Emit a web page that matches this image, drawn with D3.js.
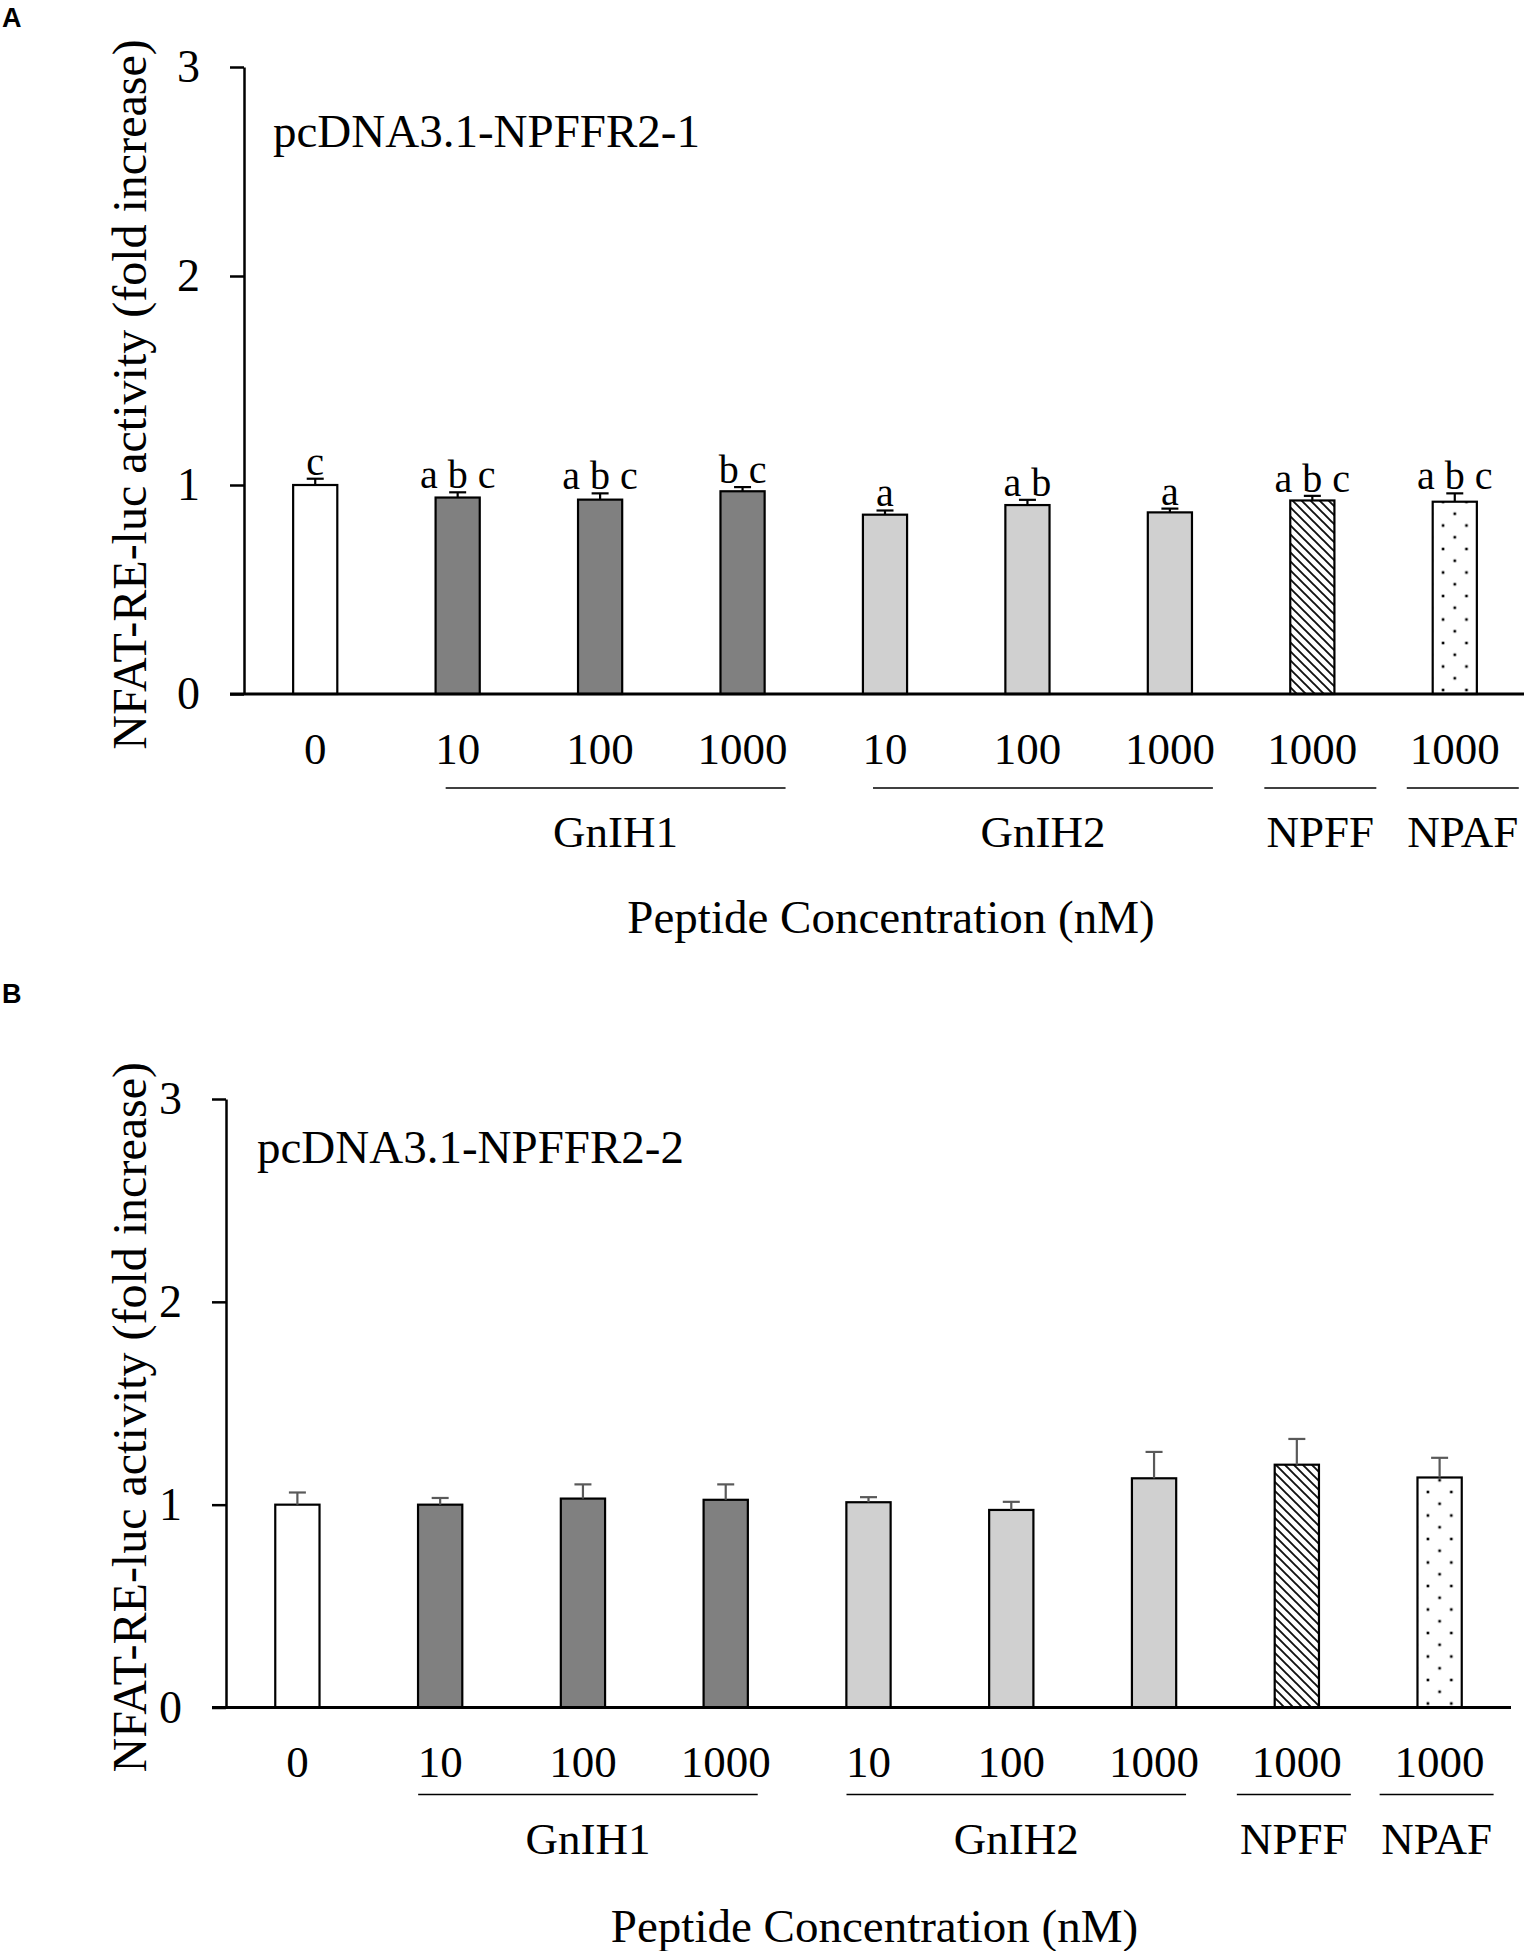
<!DOCTYPE html>
<html>
<head>
<meta charset="utf-8">
<script src="https://cdn.jsdelivr.net/npm/d3@7"></script>
<style>
  body { margin: 0; background: #fff; }
  svg { display: block; }
  text { font-family: "Liberation Serif", "Times New Roman", serif; fill: #000; }
</style>
</head>
<body>
<svg id="chart" width="1524" height="1951"></svg>
<script>
// doses shown under each bar, and which peptide each bar belongs to
const doses = ["0", "10", "100", "1000", "10", "100", "1000", "1000", "1000"]
const groups = ["Control", "GnIH1", "GnIH1", "GnIH1", "GnIH2", "GnIH2", "GnIH2", "NPFF", "NPAF"]
const yTicks = [0, 1, 2, 3]

// panel A, pcDNA3.1-NPFFR2-1
const meanA = [1.00, 0.94, 0.93, 0.97, 0.858, 0.904, 0.869, 0.926, 0.92]
const errA = [0.03, 0.025, 0.03, 0.02, 0.02, 0.025, 0.018, 0.022, 0.04]
const lettersA = ["c", "a b c", "a b c", "b c", "a", "a b", "a", "a b c", "a b c"]

// panel B, pcDNA3.1-NPFFR2-2
const meanB = [1.00, 1.00, 1.03, 1.024, 1.012, 0.974, 1.13, 1.197, 1.134]
const errB = [0.06, 0.033, 0.07, 0.076, 0.025, 0.04, 0.13, 0.127, 0.097]

const svg = d3.select("#chart")
const defs = svg.append("defs")

const hatch = defs.append("pattern")
  .attr("id", "hatch")
  .attr("patternUnits", "userSpaceOnUse")
  .attr("width", 9)
  .attr("height", 9)
hatch.append("rect").attr("width", 9).attr("height", 9).attr("fill", "#fff")
hatch.append("path")
  .attr("d", "M-2,-2 L11,11 M-2,7 L2,11 M7,-2 L11,2")
  .attr("stroke", "#111")
  .attr("stroke-width", 1.9)

function fillFor(g, panelId) {
  if (g == "GnIH1") return "#808080"
  if (g == "GnIH2") return "#d0d0d0"
  if (g == "NPFF") return "url(#hatch)"
  if (g == "NPAF") return "url(#dots" + panelId + ")"
  return "#fff"
}

function drawPanel(p) {
  const x = d3.scaleBand()
    .domain(d3.range(doses.length))
    .range([p.left, p.right])
    .paddingInner(0.69)
    .paddingOuter(0.345)

  const y = d3.scaleLinear()
    .domain([0, 3])
    .range([p.bottom, p.top])

  const cx = i => x(i) + x.bandwidth() / 2
  const g = svg.append("g")

  // dotted fill for the NPAF bar, lined up with that bar
  const npaf = groups.indexOf("NPAF")
  const dots = defs.append("pattern")
    .attr("id", "dots" + p.id)
    .attr("patternUnits", "userSpaceOnUse")
    .attr("x", cx(npaf) - 11.7)
    .attr("y", p.bottom - 4)
    .attr("width", 23.4)
    .attr("height", 23.5)
  dots.append("rect").attr("width", 23.4).attr("height", 23.5).attr("fill", "#fff")
  dots.selectAll("rect.d")
    .data([[0, 0], [23.4, 0], [11.7, 11.75], [0, 23.5], [23.4, 23.5]])
    .enter().append("rect")
    .attr("class", "d")
    .attr("x", d => d[0] - 1.3)
    .attr("y", d => d[1] - 1.3)
    .attr("width", 2.6)
    .attr("height", 2.6)
    .attr("fill", "#000")

  // panel letter
  svg.append("text")
    .attr("x", 2)
    .attr("y", p.letterY)
    .style("font-family", "'Liberation Sans', Arial, sans-serif")
    .style("font-weight", "bold")
    .style("font-size", "27px")
    .text(p.id)

  // y axis
  const yAxis = d3.axisLeft(y)
    .tickValues(yTicks)
    .tickFormat(d3.format("d"))
    .tickSize(14)
    .tickSizeOuter(0)
    .tickPadding(30)
  const yG = g.append("g")
    .attr("transform", `translate(${p.left},0)`)
    .call(yAxis)
  yG.select(".domain").attr("stroke", "#000").attr("stroke-width", 2.5)
  yG.selectAll(".tick line").attr("stroke", "#000").attr("stroke-width", 2.5)
  yG.selectAll(".tick text")
    .style("font-family", "'Liberation Serif', 'Times New Roman', serif")
    .style("font-size", "46px")
    .attr("fill", "#000")

  g.append("text")
    .attr("transform", `translate(146,${(p.top + p.bottom) / 2 + 14}) rotate(-90)`)
    .attr("text-anchor", "middle")
    .style("font-size", "48px")
    .text("NFAT-RE-luc activity (fold increase)")

  g.append("text")
    .attr("x", p.left + p.noteDx)
    .attr("y", p.top + p.noteDy)
    .style("font-size", "47px")
    .text(p.note)

  // bars
  g.append("g").selectAll("rect")
    .data(p.mean)
    .enter().append("rect")
    .attr("x", (d, i) => x(i))
    .attr("y", d => y(d))
    .attr("width", x.bandwidth())
    .attr("height", d => y(0) - y(d))
    .attr("fill", (d, i) => fillFor(groups[i], p.id))
    .attr("stroke", "#000")
    .attr("stroke-width", 2.2)

  // error bars, upper half only
  const eb = g.append("g")
    .attr("stroke", p.errColor)
    .attr("stroke-width", 2.2)
  p.mean.forEach((m, i) => {
    eb.append("line")
      .attr("x1", cx(i)).attr("x2", cx(i))
      .attr("y1", y(m)).attr("y2", y(m + p.err[i]))
    eb.append("line")
      .attr("x1", cx(i) - 8.5).attr("x2", cx(i) + 8.5)
      .attr("y1", y(m + p.err[i])).attr("y2", y(m + p.err[i]))
  })

  if (p.letters) {
    g.append("g").selectAll("text")
      .data(p.letters)
      .enter().append("text")
      .attr("x", (d, i) => cx(i))
      .attr("y", (d, i) => y(p.mean[i] + p.err[i]) - 4)
      .attr("text-anchor", "middle")
      .style("font-size", "40px")
      .style("white-space", "pre")
      .text(d => d)
  }

  // x axis: dose labels
  const xAxis = d3.axisBottom(x)
    .tickFormat(i => doses[i])
    .tickSize(0)
    .tickPadding(38)
  const xG = g.append("g")
    .attr("transform", `translate(0,${p.bottom})`)
    .call(xAxis)
  xG.select(".domain").remove()
  xG.selectAll(".tick text")
    .style("font-family", "'Liberation Serif', 'Times New Roman', serif")
    .style("font-size", "45px")
    .attr("fill", "#000")

  g.append("line")
    .attr("x1", p.left - 14).attr("x2", p.right)
    .attr("y1", p.bottom).attr("y2", p.bottom)
    .attr("stroke", "#000")
    .attr("stroke-width", 3)

  // peptide groups with a rule above each name
  const spans = d3.groups(d3.range(groups.length), i => groups[i])
    .filter(s => s[0] != "Control")
  spans.forEach(([name, idx]) => {
    const single = idx.length == 1
    const x1 = cx(idx[0]) - (single ? p.singleL : p.multiL)
    const x2 = cx(idx[idx.length - 1]) + (single ? p.singleR : p.multiR)
    g.append("line")
      .attr("x1", x1).attr("x2", x2)
      .attr("y1", p.bottom + p.ruleDy).attr("y2", p.bottom + p.ruleDy)
      .attr("stroke", "#000")
      .attr("stroke-width", 1.5)
    g.append("text")
      .attr("x", (x1 + x2) / 2)
      .attr("y", p.bottom + p.groupDy)
      .attr("text-anchor", "middle")
      .style("font-size", "45px")
      .text(name)
  })

  g.append("text")
    .attr("x", (p.left + p.right) / 2 + 6)
    .attr("y", p.bottom + p.titleDy)
    .attr("text-anchor", "middle")
    .style("font-size", "47px")
    .text("Peptide Concentration (nM)")
}

drawPanel({
  id: "A", letterY: 27,
  left: 244, right: 1526, top: 67, bottom: 694,
  mean: meanA, err: errA, letters: lettersA, errColor: "#000",
  note: "pcDNA3.1-NPFFR2-1", noteDx: 29, noteDy: 80,
  ruleDy: 94, groupDy: 153, titleDy: 239,
  multiL: 12, multiR: 43, singleL: 48, singleR: 64
})

drawPanel({
  id: "B", letterY: 1003,
  left: 226, right: 1511, top: 1099, bottom: 1707.5,
  mean: meanB, err: errB, letters: null, errColor: "#595959",
  note: "pcDNA3.1-NPFFR2-2", noteDx: 31, noteDy: 64,
  ruleDy: 87, groupDy: 146, titleDy: 234,
  multiL: 22, multiR: 32, singleL: 60, singleR: 54
})
</script>
</body>
</html>
